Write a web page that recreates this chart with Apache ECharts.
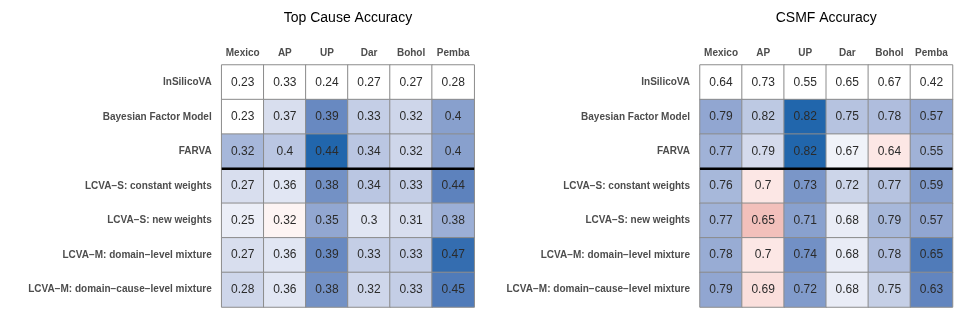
<!DOCTYPE html>
<html>
<head>
<meta charset="utf-8">
<script src="https://cdn.jsdelivr.net/npm/echarts@6/dist/echarts.min.js"></script>
<style>html,body{margin:0;padding:0;background:#fff}#c{width:969px;height:323px}</style>
</head>
<body>
<div id="c"></div>
<script>
const methods = [
  "InSilicoVA",
  "Bayesian Factor Model",
  "FARVA",
  "LCVA\u2212S: constant weights",
  "LCVA\u2212S: new weights",
  "LCVA\u2212M: domain\u2212level mixture",
  "LCVA\u2212M: domain\u2212cause\u2212level mixture"
];
const sites = ["Mexico", "AP", "UP", "Dar", "Bohol", "Pemba"];
const panelTitles = ["Top Cause Accuracy", "CSMF Accuracy"];
const topCause = [
  [0.23, 0.33, 0.24, 0.27, 0.27, 0.28],
  [0.23, 0.37, 0.39, 0.33, 0.32, 0.4],
  [0.32, 0.4, 0.44, 0.34, 0.32, 0.4],
  [0.27, 0.36, 0.38, 0.34, 0.33, 0.44],
  [0.25, 0.32, 0.35, 0.3, 0.31, 0.38],
  [0.27, 0.36, 0.39, 0.33, 0.33, 0.47],
  [0.28, 0.36, 0.38, 0.32, 0.33, 0.45]
];
const csmf = [
  [0.64, 0.73, 0.55, 0.65, 0.67, 0.42],
  [0.79, 0.82, 0.82, 0.75, 0.78, 0.57],
  [0.77, 0.79, 0.82, 0.67, 0.64, 0.55],
  [0.76, 0.7, 0.73, 0.72, 0.77, 0.59],
  [0.77, 0.65, 0.71, 0.68, 0.79, 0.57],
  [0.78, 0.7, 0.74, 0.68, 0.78, 0.65],
  [0.79, 0.69, 0.72, 0.68, 0.75, 0.63]
];
const baselineRow = 0;
const separatorAfter = 3;

// ---- Lab colour interpolation (for a diverging red-white-blue scale) ----
function hex2rgb(h){h=h.replace('#','');return [0,2,4].map(i=>parseInt(h.substr(i,2),16));}
function lin(c){c/=255;return c<=0.04045?c/12.92:Math.pow((c+0.055)/1.055,2.4);}
function unlin(c){c=c<=0.0031308?12.92*c:1.055*Math.pow(c,1/2.4)-0.055;return Math.max(0,Math.min(255,Math.round(c*255)));}
const WX=0.95047,WY=1,WZ=1.08883;
function f(t){return t>0.008856?Math.cbrt(t):7.787*t+16/116;}
function finv(t){return t*t*t>0.008856?t*t*t:(t-16/116)/7.787;}
function rgb2lab(rgb){
  const [r,g,b]=rgb.map(lin);
  const x=(0.4124*r+0.3576*g+0.1805*b)/WX,y=(0.2126*r+0.7152*g+0.0722*b)/WY,z=(0.0193*r+0.1192*g+0.9505*b)/WZ;
  const fx=f(x),fy=f(y),fz=f(z);
  return [116*fy-16,500*(fx-fy),200*(fy-fz)];
}
function lab2hex(lab){
  const fy=(lab[0]+16)/116,fx=fy+lab[1]/500,fz=fy-lab[2]/200;
  const x=finv(fx)*WX,y=finv(fy)*WY,z=finv(fz)*WZ;
  const r=3.2406*x-1.5372*y-0.4986*z,g=-0.9689*x+1.8758*y+0.0415*z,b=0.0557*x-0.2040*y+1.0570*z;
  return '#'+[r,g,b].map(unlin).map(v=>v.toString(16).padStart(2,'0')).join('');
}
function mix(a,b,t){const A=rgb2lab(hex2rgb(a)),B=rgb2lab(hex2rgb(b));return lab2hex(A.map((v,i)=>v+(B[i]-v)*t));}
const LOW='#b2182b',MID='#ffffff',HIGH='#2166ac';
const N=20;const stops=[];
for(let k=-N;k<=N;k++){const t=k/N;stops.push(t<0?mix(MID,LOW,-t):mix(MID,HIGH,t));}

// ---- layout ----
const FONT='Liberation Sans, Arial, Helvetica, sans-serif';
const gridTop=65, gridH=242, gridW=252.5;
const gridLefts=[221.7, 700];

function buildData(m){
  const base=m[baselineRow];const out=[];let maxAbs=0;
  m.forEach((row,i)=>row.forEach((v,j)=>{const d=+(v-base[j]).toFixed(4);maxAbs=Math.max(maxAbs,Math.abs(d));out.push([j,i,v,d]);}));
  return {data:out,maxAbs};
}
const panels=[buildData(topCause),buildData(csmf)];

const option={
  animation:false,
  textStyle:{fontFamily:FONT},
  title:panelTitles.map((t,k)=>({text:t,left:gridLefts[k]+gridW/2,top:11,textAlign:'center',padding:0,
    textStyle:{fontFamily:FONT,fontSize:14,fontWeight:'normal',color:'#000'}})),
  grid:gridLefts.map(l=>({left:l,top:gridTop,width:gridW,height:gridH})),
  xAxis:[
    ...gridLefts.map((_,k)=>({type:'category',gridIndex:k,data:sites,position:'top',
      axisLine:{show:false},axisTick:{show:false},splitLine:{show:false},
      axisLabel:{interval:0,fontFamily:FONT,fontSize:10,fontWeight:'bold',color:'#4d4d4d',margin:7}})),
    ...gridLefts.map((_,k)=>({type:'value',gridIndex:k,min:0,max:sites.length,show:false}))
  ],
  yAxis:[
    ...gridLefts.map((_,k)=>({type:'category',gridIndex:k,data:methods,inverse:true,
      axisLine:{show:false},axisTick:{show:false},splitLine:{show:false},
      axisLabel:{interval:0,fontFamily:FONT,fontSize:10,fontWeight:'bold',color:'#4d4d4d',margin:10}})),
    ...gridLefts.map((_,k)=>({type:'value',gridIndex:k,min:0,max:methods.length,inverse:true,show:false}))
  ],
  visualMap:panels.map((p,k)=>({type:'continuous',show:false,seriesIndex:k,dimension:3,
    min:-p.maxAbs,max:p.maxAbs,inRange:{color:stops}})),
  series:[
    ...panels.map((p,k)=>({type:'heatmap',xAxisIndex:k,yAxisIndex:k,data:p.data,
      itemStyle:{borderColor:'#8c8c8c',borderWidth:1},
      label:{show:true,fontFamily:FONT,fontSize:12,color:'#2b2b2b',formatter:q=>String(q.value[2])},
      emphasis:{disabled:true}})),
    ...panels.map((p,k)=>({type:'line',xAxisIndex:2+k,yAxisIndex:2+k,symbol:'none',silent:true,z:5,
      lineStyle:{color:'#000',width:2.5},
      data:[[0,separatorAfter],[sites.length,separatorAfter]]}))
  ]
};
const chart=echarts.init(document.getElementById('c'),null,{renderer:'canvas'});
chart.setOption(option);
</script>
</body>
</html>
